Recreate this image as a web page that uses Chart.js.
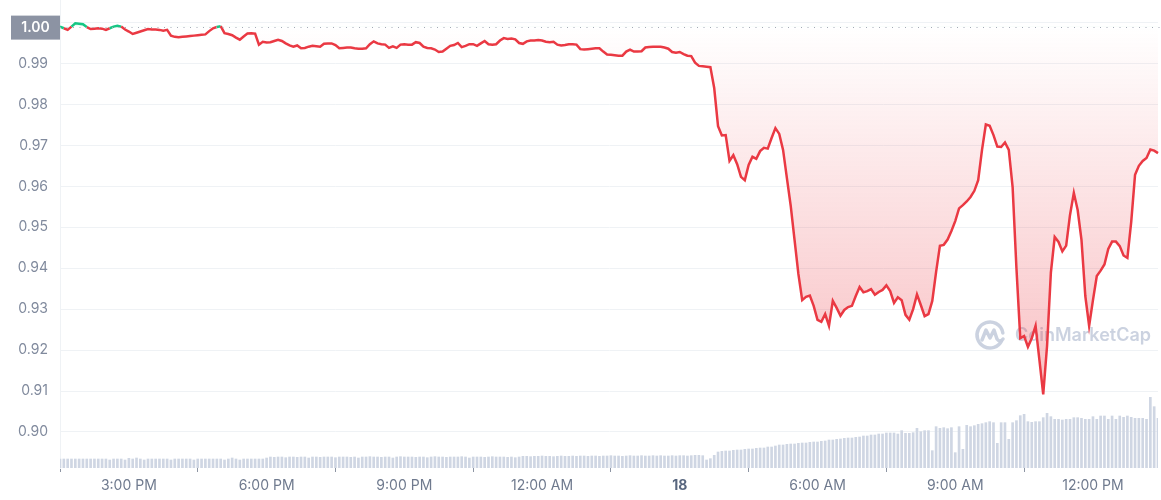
<!DOCTYPE html>
<html>
<head>
<meta charset="utf-8">
<script src="https://cdn.jsdelivr.net/npm/chart.js@4.4.0/dist/chart.umd.min.js"></script>
<style>
  html, body { margin: 0; padding: 0; background: #fff; }
  #wrap { width: 1161px; height: 500px; }
</style>
</head>
<body>
<div id="wrap"><canvas id="chart"></canvas></div>
<script>
// 5-minute prices, 1:30 PM -> 1:25 PM next day
const prices = [
  0.9990, 0.9986, 0.9982, 0.9990, 0.9998, 0.9997, 0.9996, 0.9989, 0.9984, 0.9985,
  0.9986, 0.9985, 0.9982, 0.9986, 0.9990, 0.9992, 0.9990, 0.9983, 0.9978, 0.9972,
  0.9975, 0.9978, 0.9981, 0.9984, 0.9983, 0.9983, 0.9982, 0.9980, 0.9982, 0.9968,
  0.9965, 0.9964, 0.9965, 0.9966, 0.9967, 0.9968, 0.9969, 0.9970, 0.9971, 0.9979,
  0.9986, 0.9989, 0.9991, 0.9974, 0.9972, 0.9969, 0.9963, 0.9958, 0.9966, 0.9973,
  0.9974, 0.9973, 0.9946, 0.9953, 0.9951, 0.9952, 0.9955, 0.9958, 0.9955, 0.9949,
  0.9944, 0.9941, 0.9944, 0.9937, 0.9938, 0.9941, 0.9943, 0.9942, 0.9941, 0.9948,
  0.9949, 0.9949, 0.9945, 0.9937, 0.9938, 0.9939, 0.9939, 0.9937, 0.9936, 0.9936,
  0.9937, 0.9947, 0.9954, 0.9949, 0.9947, 0.9946, 0.9938, 0.9942, 0.9938, 0.9946,
  0.9947, 0.9946, 0.9946, 0.9952, 0.9950, 0.9941, 0.9938, 0.9937, 0.9934, 0.9928,
  0.9929, 0.9936, 0.9943, 0.9945, 0.9950, 0.9940, 0.9943, 0.9947, 0.9947, 0.9943,
  0.9949, 0.9955, 0.9947, 0.9946, 0.9947, 0.9956, 0.9962, 0.9960, 0.9961, 0.9959,
  0.9950, 0.9948, 0.9954, 0.9956, 0.9956, 0.9957, 0.9956, 0.9953, 0.9952, 0.9953,
  0.9946, 0.9944, 0.9945, 0.9947, 0.9947, 0.9946, 0.9935, 0.9934, 0.9935, 0.9936,
  0.9937, 0.9937, 0.9929, 0.9922, 0.9921, 0.9920, 0.9919, 0.9919, 0.9929, 0.9934,
  0.9929, 0.9929, 0.9930, 0.9939, 0.9940, 0.9941, 0.9941, 0.9941, 0.9939, 0.9936,
  0.9928, 0.9926, 0.9928, 0.9923, 0.9919, 0.9918, 0.9902, 0.9894, 0.9893, 0.9892,
  0.9891, 0.9840, 0.9747, 0.9724, 0.9725, 0.9662, 0.9676, 0.9654, 0.9623, 0.9615,
  0.9652, 0.9672, 0.9667, 0.9686, 0.9694, 0.9692, 0.9718, 0.9742, 0.9728, 0.9689,
  0.9620, 0.9552, 0.9469, 0.9386, 0.9322, 0.9330, 0.9333, 0.9308, 0.9274, 0.9269,
  0.9288, 0.9259, 0.9320, 0.9303, 0.9284, 0.9298, 0.9305, 0.9308, 0.9332, 0.9354,
  0.9341, 0.9344, 0.9349, 0.9335, 0.9342, 0.9347, 0.9358, 0.9344, 0.9315, 0.9329,
  0.9322, 0.9286, 0.9274, 0.9300, 0.9336, 0.9310, 0.9283, 0.9288, 0.9320, 0.9391,
  0.9455, 0.9457, 0.9470, 0.9491, 0.9515, 0.9546, 0.9554, 0.9563, 0.9574, 0.9589,
  0.9615, 0.9689, 0.9751, 0.9748, 0.9725, 0.9697, 0.9696, 0.9707, 0.9689, 0.9598,
  0.9400, 0.9229, 0.9234, 0.9208, 0.9229, 0.9259, 0.9176, 0.9092, 0.9210, 0.9389,
  0.9476, 0.9464, 0.9441, 0.9455, 0.9530, 0.9584, 0.9542, 0.9469, 0.9332, 0.9259,
  0.9322, 0.9381, 0.9394, 0.9409, 0.9447, 0.9465, 0.9465, 0.9454, 0.9431, 0.9425,
  0.9513, 0.9628, 0.9650, 0.9662, 0.9669, 0.9690, 0.9687, 0.9681
];

// volume per 5 minutes (millions)
const volumes = [
  27, 27, 27, 27, 27, 27, 27, 27, 27, 27,
  27, 27, 27, 24, 27, 27, 27, 24, 29, 27,
  30, 27, 24, 27, 27, 27, 27, 27, 27, 24,
  27, 27, 27, 27, 27, 24, 27, 27, 27, 27,
  27, 27, 27, 24, 27, 30, 27, 24, 27, 27,
  27, 27, 27, 27, 30,
  33, 32, 33, 33, 31, 33, 33, 32, 33, 33,
  30, 33, 33, 32, 33, 33, 33, 31, 33, 33,
  33, 32, 33, 30, 33, 33, 34, 33, 33, 32,
  33, 33, 30, 33, 34, 33, 33, 33, 32, 33,
  33, 31, 33, 34, 33, 33, 32, 33, 33, 33,
  34, 33, 30, 33, 33, 33, 32, 33, 34, 33,
  33, 33, 32, 33, 31, 33,
  35, 35, 34, 35, 35, 36, 35, 35, 34, 35,
  36, 35, 35, 36, 35, 36, 36, 35, 36, 36,
  35, 36, 36, 37, 36, 36, 35, 36, 37, 36,
  36, 37, 36, 36, 37, 36, 37, 36, 36, 37,
  36, 37, 37, 36, 37, 38, 38, 37,
  24, 28,
  38, 48, 50, 51, 51, 53, 54, 54, 56, 57,
  57, 59, 60, 60, 63, 63, 66, 69, 69, 71,
  72, 72, 74, 75, 75, 77, 78, 78, 80, 81,
  84, 84, 86, 87, 89, 90, 90, 92, 93, 96,
  96, 99, 99, 102, 102, 105, 105, 105, 102,
  112, 104, 104, 106, 119, 109, 112, 112, 52, 124,
  119, 121, 118, 121, 46, 124, 56, 128, 124, 127,
  131, 133, 136, 139, 136, 74, 136, 136, 86, 136,
  142, 157, 161, 139, 137, 139, 139, 151, 164, 154,
  146, 146, 144, 146, 146, 151, 151, 149, 146, 146,
  154, 146, 156, 156, 146, 156, 146, 156, 152, 156,
  152, 149, 149, 149, 146, 212, 184, 149
];

const yTicks = [0.90, 0.91, 0.92, 0.93, 0.94, 0.95, 0.96, 0.97, 0.98, 0.99, 1.00];
const tickIdx = [18, 54, 90, 126, 162, 198, 234, 270];
const tickText = ['3:00 PM', '6:00 PM', '9:00 PM', '12:00 AM', '18', '6:00 AM', '9:00 AM', '12:00 PM'];

const startMin = 13 * 60 + 30;
const times = prices.map((p, i) => {
  const m = (startMin + i * 5) % 1440;
  const h = Math.floor(m / 60), mm = m % 60;
  return ((h + 11) % 12 + 1) + ':' + String(mm).padStart(2, '0') + (h < 12 ? ' AM' : ' PM');
});

const base = prices[0];
const RED = '#ea3943';
const GREEN = '#16c784';

const canvas = document.getElementById('chart');
const g = canvas.getContext('2d');
const redFill = g.createLinearGradient(0, 27, 0, 468);
redFill.addColorStop(0, 'rgba(234,57,67,0)');
redFill.addColorStop(1, 'rgba(234,57,67,0.38)');

const watermark = {
  id: 'watermark',
  beforeDatasetsDraw(chart) {
    const { ctx, chartArea } = chart;
    const cx = chartArea.right - 168, cy = chartArea.bottom - 133;
    ctx.save();
    ctx.strokeStyle = 'rgba(200,208,222,0.95)';
    ctx.fillStyle = 'rgba(200,208,222,0.95)';
    ctx.lineWidth = 3.5;
    ctx.lineCap = 'round';
    ctx.lineJoin = 'round';
    ctx.beginPath();
    ctx.arc(cx, cy, 13, 0.15 * Math.PI, 1.95 * Math.PI);
    ctx.stroke();
    ctx.beginPath();
    ctx.moveTo(cx - 8, cy + 5);
    ctx.lineTo(cx - 4, cy - 5);
    ctx.lineTo(cx, cy + 3);
    ctx.lineTo(cx + 4, cy - 5);
    ctx.lineTo(cx + 7, cy + 4);
    ctx.quadraticCurveTo(cx + 10, cy + 8, cx + 13, cy + 4);
    ctx.stroke();
    ctx.font = '600 18px Inter';
    ctx.textBaseline = 'middle';
    ctx.fillText('CoinMarketCap', cx + 25, cy + 1);
    ctx.restore();
  }
};

const baseLine = {
  id: 'baseLine',
  afterDraw(chart) {
    const { ctx, chartArea, scales } = chart;
    const y = scales.y.getPixelForValue(base);
    ctx.save();
    ctx.strokeStyle = '#a3a9b6';
    ctx.lineWidth = 1;
    ctx.setLineDash([1, 5.5]);
    ctx.beginPath();
    ctx.moveTo(chartArea.left, Math.round(y) + 0.5);
    ctx.lineTo(chart.width, Math.round(y) + 0.5);
    ctx.stroke();
    ctx.setLineDash([]);
    ctx.fillStyle = '#8c93a3';
    ctx.fillRect(11, y - 11, chartArea.left - 11, 24);
    ctx.fillStyle = '#ffffff';
    ctx.font = '600 14px Inter';
    ctx.textAlign = 'center';
    ctx.textBaseline = 'middle';
    ctx.fillText(base.toFixed(2), (11 + chartArea.left) / 2, y + 1.5);
    ctx.restore();
  }
};

new Chart(canvas, {
  data: {
    labels: times,
    datasets: [
      {
        type: 'line',
        data: prices,
        yAxisID: 'y',
        borderColor: RED,
        borderWidth: 2.5,
        pointRadius: 0,
        tension: 0,
        segment: {
          borderColor: c => ((c.p0.parsed.y + c.p1.parsed.y) / 2 >= base - 0.0002) ? GREEN : RED
        },
        fill: { target: { value: base }, above: 'rgba(22,199,132,0.08)', below: redFill },
        order: 0
      },
      {
        type: 'bar',
        data: volumes,
        yAxisID: 'yv',
        backgroundColor: '#cfd6e3',
        barThickness: 2,
        order: 1
      }
    ]
  },
  options: {
    responsive: true,
    maintainAspectRatio: false,
    animation: false,
    layout: { padding: { top: 0, right: 3, bottom: 0, left: 0 } },
    plugins: { legend: { display: false }, tooltip: { enabled: false } },
    scales: {
      x: {
        offset: false,
        afterFit: s => { s.height = 32; s.paddingLeft = 0; s.paddingRight = 0; },
        border: { display: false },
        grid: { drawOnChartArea: false, tickLength: 4, color: '#8d95a3' },
        ticks: {
          autoSkip: false,
          maxRotation: 0,
          padding: 5,
          callback: (v, i) => { const k = tickIdx.indexOf(i); return k < 0 ? null : tickText[k]; },
          color: c => (c.tick && c.tick.label === '18') ? '#58667e' : '#6f7a8e',
          font: c => ({ family: 'Inter', size: 14, weight: (c.tick && c.tick.label === '18') ? 'bold' : 'normal' })
        }
      },
      y: {
        min: 0.8912,
        max: 1.0055,
        afterFit: s => { s.width = 60; s.paddingTop = 0; s.paddingBottom = 0; },
        afterBuildTicks: s => { s.ticks = yTicks.map(v => ({ value: v })); },
        border: { display: true, color: '#eff2f5' },
        grid: { color: '#eff2f5', drawTicks: false },
        ticks: {
          padding: 12,
          color: '#808a9d',
          font: { family: 'Inter', size: 14 },
          callback: v => v.toFixed(2)
        }
      },
      yv: { display: false, min: 0, max: 1404 }
    }
  },
  plugins: [watermark, baseLine]
});
</script>
</body>
</html>
